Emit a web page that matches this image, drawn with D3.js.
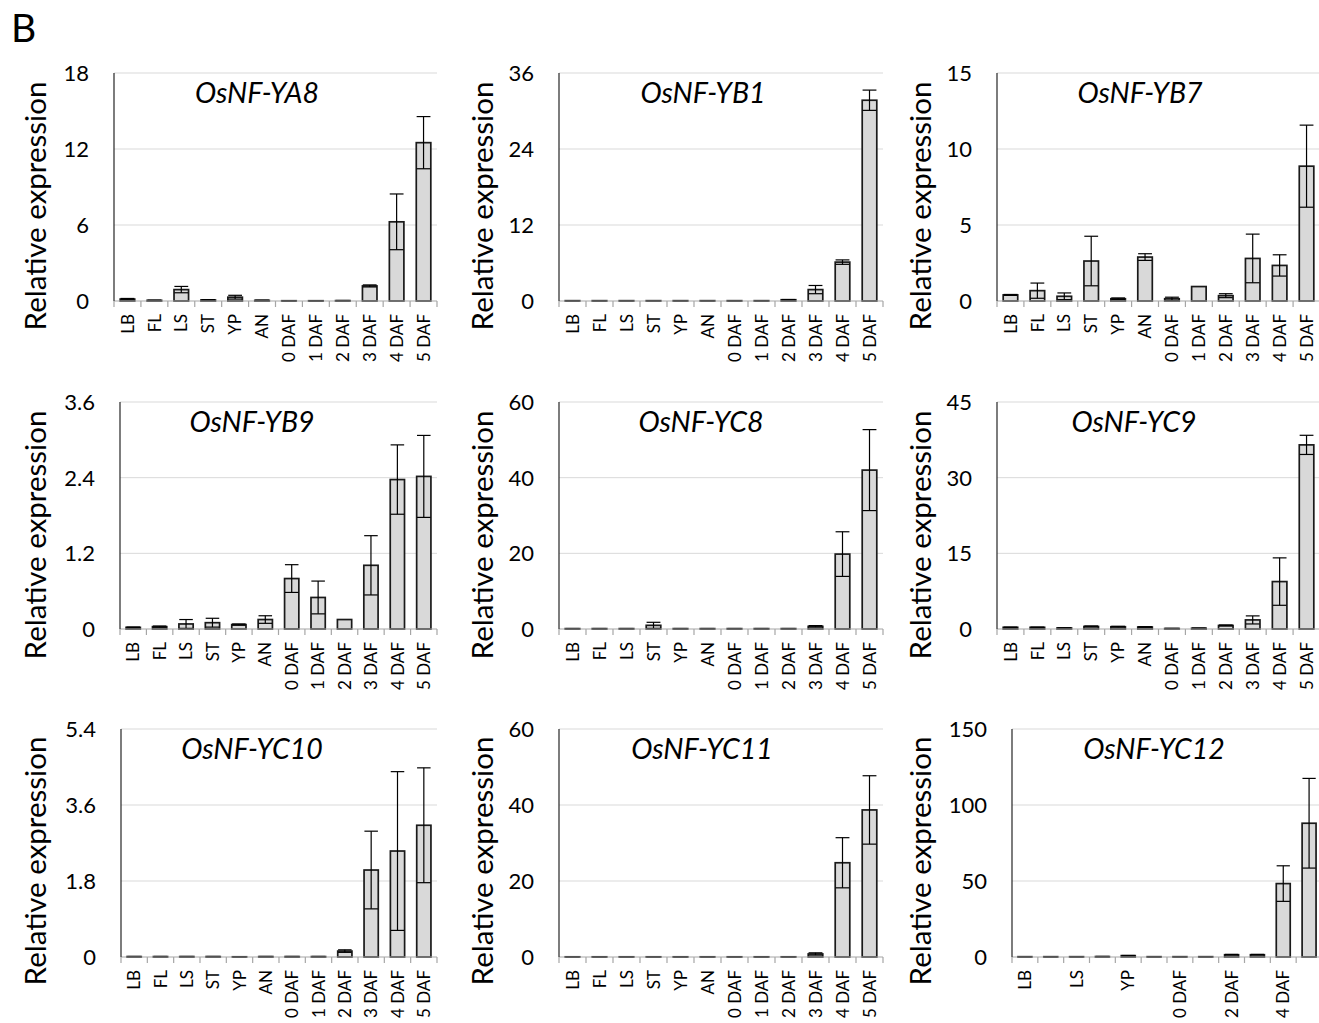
<!DOCTYPE html>
<html>
<head>
<meta charset="utf-8">
<script src="https://cdn.jsdelivr.net/npm/d3@7"></script>
<style>
  html, body { margin: 0; padding: 0; background: #fff; }
  svg { display: block; }
  text { font-family: Lato, "Open Sans", sans-serif; fill: #000; }
</style>
</head>
<body>
<svg id="chart" width="1319" height="1023"></svg>
<script>
// ---------------- DATA ----------------
const categories = ["LB","FL","LS","ST","YP","AN","0 DAF","1 DAF","2 DAF","3 DAF","4 DAF","5 DAF"];
const genes = ["OsNF-YA8","OsNF-YB1","OsNF-YB7","OsNF-YB9","OsNF-YC8","OsNF-YC9","OsNF-YC10","OsNF-YC11","OsNF-YC12"];

const meanYA8  = [0.15, 0.05, 0.9, 0.08, 0.3, 0.05, 0.02, 0.02, 0.03, 1.19, 6.25, 12.5];
const errYA8   = [0.05, 0.02, 0.25, 0.03, 0.15, 0.02, 0.01, 0.01, 0.01, 0.08, 2.2, 2.06];
const meanYB1  = [0.05, 0.05, 0.05, 0.05, 0.05, 0.05, 0.05, 0.05, 0.2, 1.8, 6.14, 31.7];
const errYB1   = [0.01, 0.01, 0.01, 0.01, 0.01, 0.01, 0.01, 0.01, 0.03, 0.65, 0.35, 1.6];
const meanYB7  = [0.4, 0.68, 0.31, 2.63, 0.15, 2.89, 0.15, 0.95, 0.35, 2.8, 2.34, 8.87];
const errYB7   = [0.03, 0.5, 0.22, 1.63, 0.05, 0.22, 0.1, 0.0, 0.13, 1.6, 0.7, 2.7];
const meanYB9  = [0.026, 0.037, 0.08, 0.1, 0.07, 0.15, 0.8, 0.5, 0.15, 1.01, 2.37, 2.42];
const errYB9   = [0.005, 0.01, 0.07, 0.07, 0.01, 0.06, 0.22, 0.26, 0.0, 0.47, 0.55, 0.65];
const meanYC8  = [0.1, 0.1, 0.1, 0.97, 0.1, 0.1, 0.1, 0.1, 0.1, 0.7, 19.8, 42.0];
const errYC8   = [0.02, 0.02, 0.02, 0.8, 0.02, 0.02, 0.02, 0.02, 0.02, 0.2, 5.9, 10.7];
const meanYC9  = [0.33, 0.33, 0.2, 0.5, 0.45, 0.4, 0.1, 0.15, 0.7, 1.8, 9.4, 36.5];
const errYC9   = [0.05, 0.05, 0.03, 0.1, 0.08, 0.06, 0.02, 0.03, 0.1, 0.8, 4.7, 1.9];
const meanYC10 = [0.01, 0.01, 0.01, 0.01, 0.005, 0.01, 0.01, 0.01, 0.14, 2.06, 2.51, 3.12];
const errYC10  = [0.002, 0.002, 0.002, 0.002, 0.001, 0.002, 0.002, 0.002, 0.03, 0.92, 1.88, 1.36];
const meanYC11 = [0.05, 0.05, 0.05, 0.05, 0.05, 0.05, 0.05, 0.05, 0.05, 0.8, 24.8, 38.7];
const errYC11  = [0.01, 0.01, 0.01, 0.01, 0.01, 0.01, 0.01, 0.01, 0.01, 0.3, 6.6, 9.0];
const meanYC12 = [0.2, 0.2, 0.2, 0.3, 0.9, 0.2, 0.2, 0.2, 1.5, 1.5, 48.3, 88.0];
const errYC12  = [0.05, 0.05, 0.05, 0.05, 0.1, 0.05, 0.05, 0.05, 0.2, 0.2, 11.7, 29.5];

const yTicksYA8  = [0, 6, 12, 18];
const yTicksYB1  = [0, 12, 24, 36];
const yTicksYB7  = [0, 5, 10, 15];
const yTicksYB9  = [0, 1.2, 2.4, 3.6];
const yTicksYC8  = [0, 20, 40, 60];
const yTicksYC9  = [0, 15, 30, 45];
const yTicksYC10 = [0, 1.8, 3.6, 5.4];
const yTicksYC11 = [0, 20, 40, 60];
const yTicksYC12 = [0, 50, 100, 150];

// only every other category label is printed on the OsNF-YC12 panel
const labelsYC12 = ["LB","","LS","","YP","","0 DAF","","2 DAF","","4 DAF",""];

const yAxisTitle = "Relative expression";
const figureLetter = "B";

// ---------------- LAYOUT ----------------
const means  = [meanYA8, meanYB1, meanYB7, meanYB9, meanYC8, meanYC9, meanYC10, meanYC11, meanYC12];
const errs   = [errYA8, errYB1, errYB7, errYB9, errYC8, errYC9, errYC10, errYC11, errYC12];
const yTicks = [yTicksYA8, yTicksYB1, yTicksYB7, yTicksYB9, yTicksYC8, yTicksYC9, yTicksYC10, yTicksYC11, yTicksYC12];
const xLabels = [categories, categories, categories, categories, categories, categories, categories, categories, labelsYC12];

const rowTop  = [73, 402, 729];
const rowZero = [301, 629, 957];
const rowLabelY = [206, 535, 861];
const panelLeft  = [114, 559, 997, 120, 559, 997, 121, 559, 1012];
const panelRight = [437, 883, 1320, 437, 883, 1320, 437, 883, 1322];
const titleX     = [257, 703, 1140, 252, 701, 1134, 252, 702, 1154];
const yTitleX    = [36, 483, 921];

const svg = d3.select("#chart");

svg.append("text")
  .attr("x", 11).attr("y", 42)
  .style("font-size", "39px")
  .text(figureLetter);

genes.forEach((gene, i) => {
  const row = Math.floor(i / 3), col = i % 3;
  const g = svg.append("g");
  const top = rowTop[row], zero = rowZero[row];
  const ticks = yTicks[i];
  const yMax = ticks[ticks.length - 1];

  const x = d3.scaleBand()
    .domain(categories)
    .range([panelLeft[i], panelRight[i]])
    .paddingInner(0.46)
    .paddingOuter(0.23);
  const y = d3.scaleLinear().domain([0, yMax]).range([zero, top]);

  // gridlines
  g.selectAll("line.grid").data(ticks.filter(t => t > 0)).join("line")
    .attr("x1", panelLeft[i]).attr("x2", panelRight[i])
    .attr("y1", d => y(d)).attr("y2", d => y(d))
    .attr("stroke", "#d9d9d9").attr("stroke-width", 1);

  // y tick labels
  g.selectAll("text.ytick").data(ticks).join("text")
    .attr("x", panelLeft[i] - 25)
    .attr("y", d => y(d))
    .attr("dy", "0.36em")
    .attr("text-anchor", "end")
    .style("font-size", "22px")
    .text(d => String(d));

  // bars
  const data = categories.map((c, k) => ({ c, v: means[i][k], e: errs[i][k], k }));
  g.selectAll("rect.bar").data(data).join("rect")
    .attr("x", d => x(d.c))
    .attr("width", x.bandwidth())
    .attr("y", d => y(d.v))
    .attr("height", d => Math.max(0, zero - y(d.v)))
    .attr("fill", "#d9d9d9")
    .attr("stroke", "#1a1a1a")
    .attr("stroke-width", 1.7);

  // error bars
  const cap = x.bandwidth() * 0.95;
  const eb = g.selectAll("g.err").data(data.filter(d => d.e > 0)).join("g");
  eb.append("line")
    .attr("x1", d => x(d.c) + x.bandwidth() / 2).attr("x2", d => x(d.c) + x.bandwidth() / 2)
    .attr("y1", d => y(Math.max(0, d.v - d.e))).attr("y2", d => y(d.v + d.e))
    .attr("stroke", "#000").attr("stroke-width", 1.2);
  eb.append("line")
    .attr("x1", d => x(d.c) + x.bandwidth() / 2 - cap / 2).attr("x2", d => x(d.c) + x.bandwidth() / 2 + cap / 2)
    .attr("y1", d => y(d.v + d.e)).attr("y2", d => y(d.v + d.e))
    .attr("stroke", "#000").attr("stroke-width", 1.2);
  eb.append("line")
    .attr("x1", d => x(d.c) + x.bandwidth() / 2 - cap / 2).attr("x2", d => x(d.c) + x.bandwidth() / 2 + cap / 2)
    .attr("y1", d => y(Math.max(0, d.v - d.e))).attr("y2", d => y(Math.max(0, d.v - d.e)))
    .attr("stroke", "#000").attr("stroke-width", 1.2);

  // x axis line and ticks at category boundaries
  g.append("line")
    .attr("x1", panelLeft[i]).attr("x2", panelRight[i])
    .attr("y1", zero).attr("y2", zero)
    .attr("stroke", "#a6a6a6").attr("stroke-width", 1.2);
  const bounds = categories.map(c => x(c) + x.bandwidth() / 2 - x.step() / 2).concat([panelRight[i]]);
  g.selectAll("line.xtick").data(bounds).join("line")
    .attr("x1", d => d).attr("x2", d => d)
    .attr("y1", zero).attr("y2", zero + 6)
    .attr("stroke", "#a6a6a6").attr("stroke-width", 1.2);

  // y axis line
  g.append("line")
    .attr("x1", panelLeft[i]).attr("x2", panelLeft[i])
    .attr("y1", top).attr("y2", zero)
    .attr("stroke", "#262626").attr("stroke-width", 1.2);

  // x tick labels (rotated)
  g.selectAll("text.xlab").data(categories.map((c, k) => ({ c, lab: xLabels[i][k] }))).join("text")
    .attr("transform", d => `translate(${x(d.c) + x.bandwidth() / 2},${zero + 13}) rotate(-90)`)
    .attr("dy", "0.36em")
    .attr("text-anchor", "end")
    .style("font-size", "17px")
    .text(d => d.lab);

  // panel title
  g.append("text")
    .attr("x", titleX[i]).attr("y", top + 30)
    .attr("text-anchor", "middle")
    .style("font-size", "28.5px")
    .style("font-style", "italic")
    .text(gene);

  // y axis title
  g.append("text")
    .attr("transform", `translate(${yTitleX[col]},${rowLabelY[row]}) rotate(-90)`)
    .attr("text-anchor", "middle")
    .attr("dy", "0.35em")
    .style("font-size", "29.5px")
    .text(yAxisTitle);
});
</script>
</body>
</html>
